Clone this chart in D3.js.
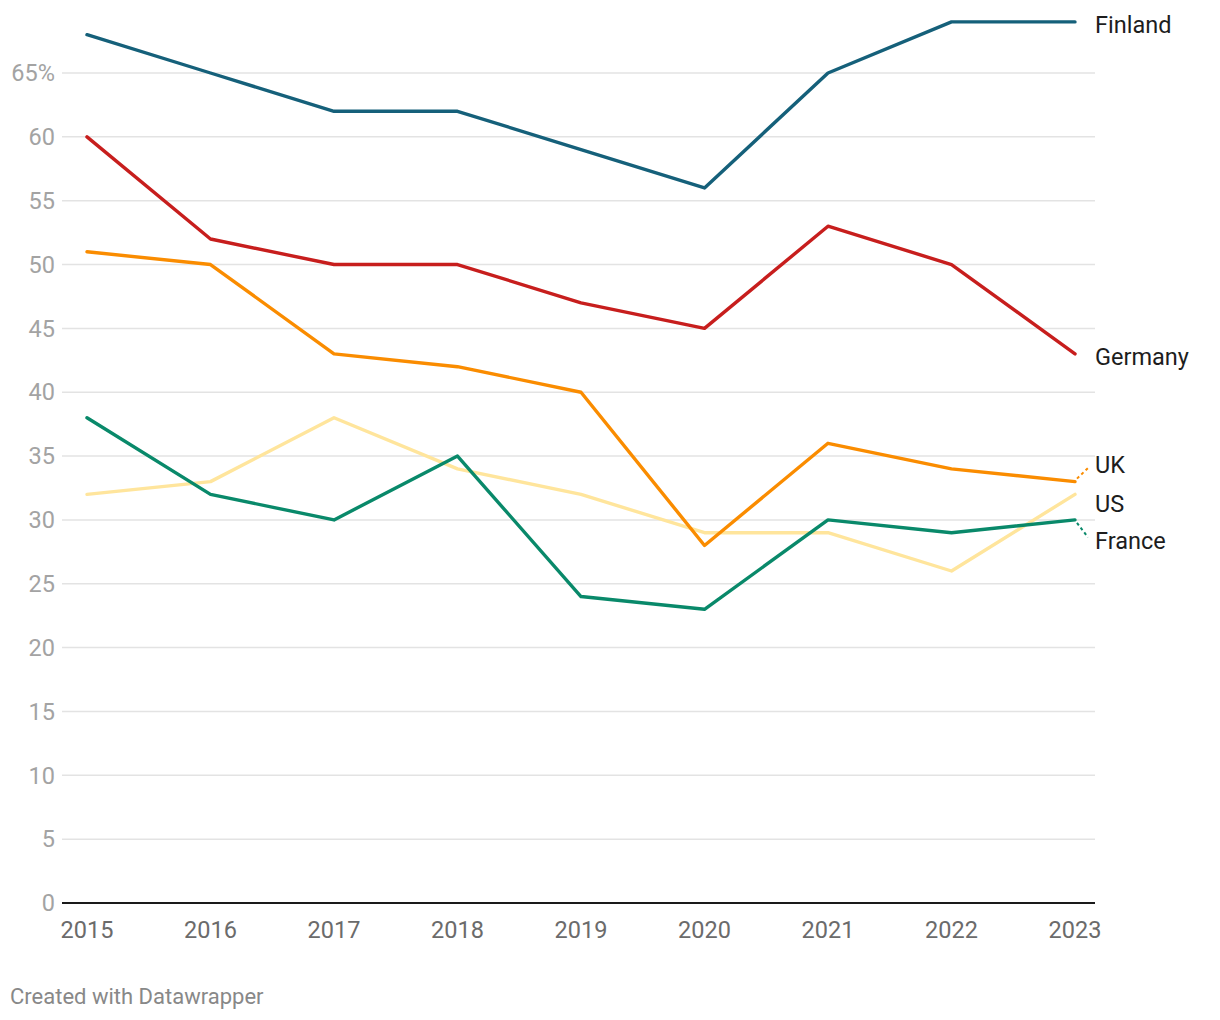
<!DOCTYPE html>
<html><head><meta charset="utf-8">
<script src="https://cdn.jsdelivr.net/npm/d3@7"></script>
<style>
body{margin:0;background:#fff;font-family:Roboto,"Noto Sans",sans-serif;}
</style></head><body>
<svg id="c" width="1220" height="1020"></svg>
<script>
const years = [2015,2016,2017,2018,2019,2020,2021,2022,2023];
const finland = [68,65,62,62,59,56,65,69,69];
const germany = [60,52,50,50,47,45,53,50,43];
const uk = [51,50,43,42,40,28,36,34,33];
const us = [32,33,38,34,32,29,29,26,32];
const france = [38,32,30,35,24,23,30,29,30];
const yTicks = [0,5,10,15,20,25,30,35,40,45,50,55,60,65];

const series = [
  {name:"US", values:us, color:"#ffe59c", labelY:31.3},
  {name:"France", values:france, color:"#09896a", labelY:28.4},
  {name:"UK", values:uk, color:"#fa8c00", labelY:34.3},
  {name:"Germany", values:germany, color:"#c71e1d", labelY:42.8},
  {name:"Finland", values:finland, color:"#15607a", labelY:68.8}
];

const svg = d3.select("#c");
const x = d3.scaleLinear().domain([2015,2023]).range([87,1075]);
const y = d3.scaleLinear().domain([0,65]).range([903,73]);

svg.append("g").selectAll("line").data(yTicks.filter(d=>d>0)).join("line")
  .attr("x1",62).attr("x2",1095).attr("y1",d=>y(d)).attr("y2",d=>y(d))
  .attr("stroke","#e3e3e3").attr("stroke-width",1.5);

svg.append("g").selectAll("text").data(yTicks).join("text")
  .attr("x",55).attr("y",d=>y(d)).attr("dy","0.35em")
  .attr("text-anchor","end").attr("fill","#a3a3a3")
  .style("font-size","23.5px")
  .text(d=>d===65?"65%":d);

svg.append("line").attr("x1",62).attr("x2",1095).attr("y1",y(0)).attr("y2",y(0))
  .attr("stroke","#1a1a1a").attr("stroke-width",2);

svg.append("g").selectAll("text").data(years).join("text")
  .attr("x",d=>x(d)).attr("y",938).attr("text-anchor","middle")
  .attr("fill","#6b6b6b").style("font-size","23.5px").text(d=>d);

const line = d3.line().x((d,i)=>x(years[i])).y(d=>y(d));
series.forEach(s=>{
  svg.append("path").attr("d",line(s.values)).attr("fill","none")
    .attr("stroke",s.color).attr("stroke-width",3.4)
    .attr("stroke-linejoin","round").attr("stroke-linecap","round");
  const last = s.values[s.values.length-1];
  const ly = y(s.labelY);
  if (Math.abs(y(last)-ly) > 12) {
    const down = ly > y(last);
    svg.append("line").attr("x1",x(2023)+2).attr("y1",y(last)+(down?3:-3))
      .attr("x2",x(2023)+13).attr("y2",ly+(down?-3:3))
      .attr("stroke",s.color).attr("stroke-width",2).attr("stroke-dasharray","3,3");
  }
  svg.append("text").attr("x",1095).attr("y",ly).attr("dy","0.35em")
    .attr("fill","#1d1d1d").style("font-size","23.5px").text(s.name);
});

svg.append("text").attr("x",10).attr("y",1004).attr("fill","#888")
  .style("font-size","22px").text("Created with Datawrapper");
</script>
</body></html>
